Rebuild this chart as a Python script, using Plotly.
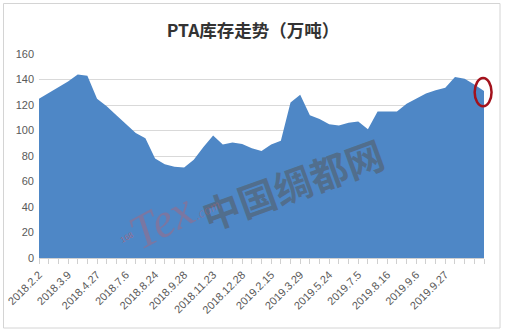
import plotly.graph_objects as go

# ---- data ----
tick_labels = ["2018.2.2", "2018.3.9", "2018.4.27", "2018.7.6", "2018.8.24",
               "2018.9.28", "2018.11.23", "2018.12.28", "2019.2.15", "2019.3.29",
               "2019.5.24", "2019.7.5", "2019.8.16", "2019.9.6", "2019.9.27"]
inventory = [125, 129.5, 134, 138.5, 144, 143, 125, 119, 112, 105,
             98, 94, 78, 73.5, 71.5, 71, 77, 87, 96, 89,
             90.5, 89.5, 86, 84, 89, 92, 122, 128, 112, 109,
             105, 104, 106, 107, 101, 115, 115, 115, 121, 125,
             129, 131.5, 133.5, 142, 140.5, 136, 131]
label_step = 3

n = len(inventory)
xs = list(range(n))
ticktext = [tick_labels[i // label_step] if (i % label_step == 0 and i // label_step < len(tick_labels)) else ""
            for i in xs]

YMAX = 160
fig = go.Figure()
fig.add_trace(go.Scatter(
    x=xs, y=inventory, mode="lines", fill="tozeroy",
    line=dict(width=0, color="rgb(78,135,198)"),
    fillcolor="rgb(78,135,198)", hoverinfo="skip", showlegend=False))

L, R, T, B = 39, 22, 54, 77
W, H = 506, 335
pw, ph = W - L - R, H - T - B

def px_to_paper(px, py):
    return (px - L) / pw, (H - B - py) / ph

# outer frame
x0, y0 = px_to_paper(3.5, 328)
x1, y1 = px_to_paper(500, 3.5)
shapes = [dict(type="rect", xref="paper", yref="paper", x0=x0, y0=y0, x1=x1, y1=y1,
               line=dict(color="#d4d4d4", width=1), fillcolor="rgba(0,0,0,0)", layer="below")]

# red ellipse around the last point
lx = (n - 1) / (n - 1)
ly = inventory[-1] / YMAX
shapes.append(dict(type="circle", xref="paper", yref="paper",
                   x0=lx - 0.021, x1=lx + 0.017, y0=ly - 0.075, y1=ly + 0.063,
                   line=dict(color="#a3121c", width=2.5), layer="above"))

wx, wy = px_to_paper(292, 183)
tx, ty = px_to_paper(117, 262)
cx, cy = px_to_paper(116, 247)
annotations = [
    dict(text="<b>中国绸都网</b>", x=wx, y=wy, xref="paper", yref="paper", showarrow=False,
         textangle=-20, font=dict(family="Noto Sans CJK SC", size=38, color="rgba(85,85,85,0.5)")),
    dict(text="<i>Tex</i><i><span style='font-size:14px'>.com</span></i>", x=tx, y=ty,
         xref="paper", yref="paper", showarrow=False, textangle=-28,
         font=dict(family="Liberation Serif", size=48, color="rgba(205,90,95,0.35)")),
    dict(text="168", x=cx, y=cy, xref="paper", yref="paper", showarrow=False,
         textangle=-28, font=dict(family="Liberation Sans", size=8, color="rgba(205,90,95,0.6)")),
]

fig.update_layout(
    width=W, height=H,
    margin=dict(l=L, r=R, t=T, b=B, autoexpand=False),
    paper_bgcolor="white", plot_bgcolor="white",
    title=dict(text="<b>PTA库存走势（万吨）</b>", x=0.5, xanchor="center",
               y=1 - 31 / H, yanchor="middle",
               font=dict(family="Noto Sans CJK SC", size=17.5, color="#333333")),
    xaxis=dict(range=[0, n - 1], tickmode="array", tickvals=xs, ticktext=ticktext,
               tickangle=-45, ticks="outside", ticklen=5, tickcolor="#d0d0d0",
               showline=True, linecolor="#d0d0d0", linewidth=1, showgrid=False, zeroline=False,
               automargin=False,
               tickfont=dict(family="Liberation Sans", size=11, color="#595959")),
    yaxis=dict(range=[0, YMAX], dtick=20, showgrid=True, gridcolor="#d9d9d9", gridwidth=1,
               zeroline=False, showline=False, ticks="", ticklabelstandoff=4, automargin=False,
               tickfont=dict(family="Liberation Sans", size=11, color="#595959")),
    shapes=shapes, annotations=annotations,
)

fig.write_html("out.html")
